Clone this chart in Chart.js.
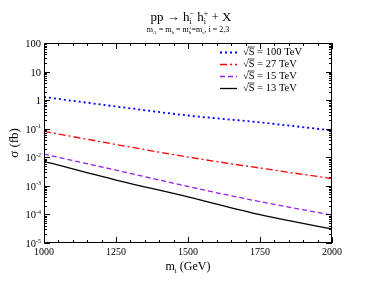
<!DOCTYPE html>
<html>
<head>
<meta charset="utf-8">
<script src="https://cdn.jsdelivr.net/npm/chart.js@4"></script>
<style>
  html, body { margin: 0; padding: 0; background: #fff; }
  #wrap { width: 374px; height: 289px; }
</style>
</head>
<body>
<div id="wrap"><canvas id="c" width="374" height="289"></canvas></div>
<script>
// values (fb)
const massGeV = [1000, 1250, 1500, 1750, 2000];
const sigma100 = [1.29, 0.6, 0.29, 0.166, 0.087];
const sigma27 = [0.081, 0.028, 0.0102, 0.0042, 0.0018];
const sigma15 = [0.0129, 0.00355, 0.00095, 0.00028, 0.000095];
const sigma13 = [0.0072, 0.0016, 0.00041, 0.000098, 0.000031];

const seriesNames = ['100', '27', '15', '13'];
const xTicks = [1000, 1250, 1500, 1750, 2000];
const yTicks = [100, 10, 1, 0.1, 0.01, 0.001, 0.0001, 0.00001];
const yTickExp = [null, null, null, '-1', '-2', '-3', '-4', '-5'];

const SERIF = '"Liberation Serif", "DejaVu Serif", serif';

function pts(ys) {
  return massGeV.map((m, i) => ({x: m, y: ys[i]}));
}

// text with stacked sub/superscripts: segs = [{t, size, sub, sup}]
function drawRich(ctx, segs, x, y, align) {
  let w = 0;
  const widths = segs.map(s => {
    ctx.font = s.size + 'px ' + SERIF;
    let sw = s.t ? ctx.measureText(s.t).width : 0;
    let ex = 0;
    ctx.font = Math.round(s.size * 0.6) + 'px ' + SERIF;
    if (s.sub) ex = Math.max(ex, ctx.measureText(s.sub).width);
    if (s.sup) ex = Math.max(ex, ctx.measureText(s.sup).width);
    w += sw + ex;
    return [sw, ex];
  });
  let cx = align === 'center' ? x - w / 2 : align === 'right' ? x - w : x;
  ctx.textAlign = 'left';
  ctx.textBaseline = 'alphabetic';
  segs.forEach((s, i) => {
    ctx.font = s.size + 'px ' + SERIF;
    if (s.t) ctx.fillText(s.t, cx, y);
    cx += widths[i][0];
    const small = Math.round(s.size * 0.6);
    ctx.font = small + 'px ' + SERIF;
    if (s.sub) ctx.fillText(s.sub, cx, y + s.size * 0.25);
    if (s.sup) ctx.fillText(s.sup, cx, y - s.size * 0.42);
    cx += widths[i][1];
  });
}

const decor = {
  id: 'decor',
  afterDraw(chart) {
    const {ctx, chartArea: a, scales: {x, y}} = chart;
    ctx.save();
    ctx.strokeStyle = '#000';
    ctx.fillStyle = '#000';
    ctx.lineWidth = 1;
    ctx.setLineDash([]);
    // frame
    ctx.strokeRect(Math.round(a.left) + 0.5, Math.round(a.top) + 0.5,
      Math.round(a.right - a.left) - 1, Math.round(a.bottom - a.top) - 1);

    ctx.beginPath();
    // x ticks (inward, top and bottom)
    for (let v = 1000; v <= 2000; v += 50) {
      const px = Math.round(x.getPixelForValue(v)) + 0.5;
      const len = (v % 250 === 0) ? 6 : 3;
      ctx.moveTo(px, a.bottom); ctx.lineTo(px, a.bottom - len);
      ctx.moveTo(px, a.top); ctx.lineTo(px, a.top + len);
    }
    // y ticks (inward, left and right)
    for (let e = -5; e <= 2; e++) {
      for (let m = 1; m <= 9; m++) {
        const v = m * Math.pow(10, e);
        if (v > 100.0001) break;
        const py = Math.round(y.getPixelForValue(v)) + 0.5;
        const len = m === 1 ? 6 : 3;
        ctx.moveTo(a.left, py); ctx.lineTo(a.left + len, py);
        ctx.moveTo(a.right, py); ctx.lineTo(a.right - len, py);
      }
    }
    ctx.stroke();

    // x tick labels
    ctx.font = '10px ' + SERIF;
    ctx.textAlign = 'center';
    ctx.textBaseline = 'top';
    xTicks.forEach(v => ctx.fillText(String(v), x.getPixelForValue(v), a.bottom + 4));

    // y tick labels
    yTicks.forEach((v, i) => {
      const py = y.getPixelForValue(v) + 4;
      if (yTickExp[i]) {
        drawRich(ctx, [{t: '10', size: 10.5, sup: yTickExp[i]}], a.left - 3, py, 'right');
      } else {
        drawRich(ctx, [{t: String(v), size: 10.5}], a.left - 3, py, 'right');
      }
    });

    // axis titles
    drawRich(ctx, [{t: 'm', size: 12, sub: 'i'}, {t: ' (GeV)', size: 12}], (a.left + a.right) / 2, 270, 'center');
    ctx.save();
    ctx.translate(18, (a.top + a.bottom) / 2);
    ctx.rotate(-Math.PI / 2);
    drawRich(ctx, [{t: 'σ (fb)', size: 13}], 0, 0, 'center');
    ctx.restore();

    // title
    drawRich(ctx, [
      {t: 'pp → h', size: 13, sub: 'i', sup: '−'},
      {t: ' h', size: 13, sub: 'i', sup: '+'},
      {t: ' + X', size: 13}
    ], 191, 21, 'center');
    drawRich(ctx, [
      {t: 'm', size: 8, sub: 'A'},
      {t: ' = m', size: 8, sub: 'h'},
      {t: ' = m', size: 8, sub: 'h', sup: '±'},
      {t: '=m', size: 8, sub: 'ν'},
      {t: ', i = 2,3', size: 8}
    ], 188, 32, 'center');

    // legend
    const lx = 220, tx = 243;
    chart.data.datasets.forEach((ds, i) => {
      const ly = 52.5 + i * 12;
      ctx.strokeStyle = ds.borderColor;
      ctx.lineWidth = ds.borderWidth;
      ctx.setLineDash(ds.borderDash || []);
      ctx.beginPath();
      ctx.moveTo(lx, ly); ctx.lineTo(lx + 17, ly);
      ctx.stroke();
      ctx.setLineDash([]);
      ctx.fillStyle = '#000';
      ctx.font = '10.5px ' + SERIF;
      ctx.textAlign = 'left';
      ctx.textBaseline = 'middle';
      const s1 = '√';
      ctx.fillText(s1, tx, ly);
      const w1 = ctx.measureText(s1).width;
      const wS = ctx.measureText('S').width;
      ctx.fillText('S = ' + seriesNames[i] + ' TeV', tx + w1, ly);
      ctx.lineWidth = 0.7;
      ctx.strokeStyle = '#000';
      ctx.beginPath();
      ctx.moveTo(tx + w1 - 1, ly - 5.5); ctx.lineTo(tx + w1 + wS, ly - 5.5);
      ctx.stroke();
    });
    ctx.restore();
  }
};

new Chart(document.getElementById('c'), {
  type: 'line',
  data: {
    datasets: [
      {label: '√S = 100 TeV', data: pts(sigma100), borderColor: '#0000ff', borderWidth: 1.8, borderDash: [2, 3]},
      {label: '√S = 27 TeV', data: pts(sigma27), borderColor: '#ff0000', borderWidth: 1.3, borderDash: [7, 3, 2, 3]},
      {label: '√S = 15 TeV', data: pts(sigma15), borderColor: '#9a1ee8', borderWidth: 1.3, borderDash: [5, 3]},
      {label: '√S = 13 TeV', data: pts(sigma13), borderColor: '#000000', borderWidth: 1.3}
    ]
  },
  options: {
    responsive: false,
    animation: false,
    devicePixelRatio: 1,
    layout: {padding: {left: 44, right: 42, top: 43, bottom: 46}},
    elements: {point: {radius: 0}, line: {cubicInterpolationMode: 'monotone'}},
    plugins: {legend: {display: false}, title: {display: false}, tooltip: {enabled: false}},
    scales: {
      x: {type: 'linear', min: 1000, max: 2000, display: false},
      y: {type: 'logarithmic', min: 1e-5, max: 100, display: false}
    }
  },
  plugins: [decor]
});
</script>
</body>
</html>
